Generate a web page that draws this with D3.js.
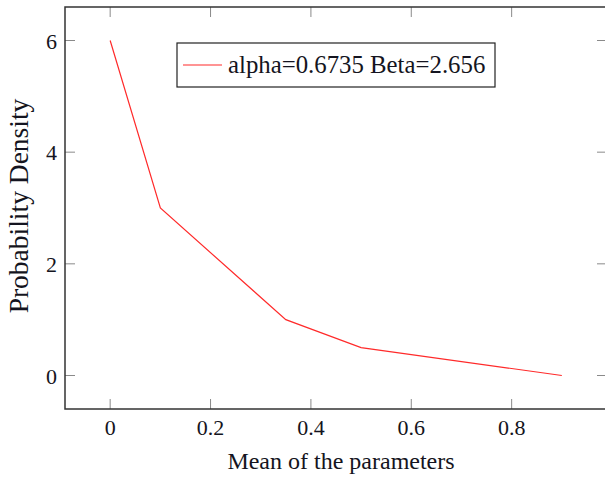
<!DOCTYPE html>
<html>
<head>
<meta charset="utf-8">
<script src="https://cdn.jsdelivr.net/npm/d3@7"></script>
<style>
  body { margin: 0; background: #fff; }
  text { font-family: "Liberation Serif", "DejaVu Serif", serif; fill: #141420; }
</style>
</head>
<body>
<svg id="canvas"></svg>
<script>
// data
const xValues = [0, 0.1, 0.35, 0.5, 0.9];
const yValues = [6, 3, 1, 0.5, 0];
const xTicks = [0, 0.2, 0.4, 0.6, 0.8];
const yTicks = [0, 2, 4, 6];
const legendLabel = 'alpha=0.6735 Beta=2.656';
const xLabel = 'Mean of the parameters';
const yLabel = 'Probability Density';

const w = 605;
const h = 477;
// plot box edges
const padLeft = 65, padRight = 607, padTop = 7, padBottom = 409;

const svg = d3.select('#canvas').attr('width', w).attr('height', h);

// pgfplots style: 10% enlarged limits
const x = d3.scaleLinear().domain([-0.09, 0.99]).range([padLeft, padRight]);
const y = d3.scaleLinear().domain([-0.6, 6.6]).range([padBottom, padTop]);

const points = xValues.map((v, i) => [v, yValues[i]]);

// ticks on all four sides, pointing inward
const tickLen = 10;
const ticks = svg.append('g').attr('stroke', '#8a8a8a').attr('stroke-width', 1);
xTicks.forEach((t) => {
	ticks.append('line').attr('x1', x(t)).attr('x2', x(t)).attr('y1', padBottom).attr('y2', padBottom - tickLen);
	ticks.append('line').attr('x1', x(t)).attr('x2', x(t)).attr('y1', padTop).attr('y2', padTop + tickLen);
});
yTicks.forEach((t) => {
	ticks.append('line').attr('y1', y(t)).attr('y2', y(t)).attr('x1', padLeft).attr('x2', padLeft + tickLen);
	ticks.append('line').attr('y1', y(t)).attr('y2', y(t)).attr('x1', padRight).attr('x2', padRight - tickLen);
});

// the curve
const line = d3.line().x((d) => x(d[0])).y((d) => y(d[1]));
svg.append('path')
	.datum(points)
	.attr('d', line)
	.attr('fill', 'none')
	.attr('stroke', '#ff2a2a')
	.attr('stroke-width', 1.2);

// frame
svg.append('rect')
	.attr('x', padLeft).attr('y', padTop)
	.attr('width', padRight - padLeft).attr('height', padBottom - padTop)
	.attr('fill', 'none')
	.attr('stroke', '#333')
	.attr('stroke-width', 1.5);

// tick labels
svg.append('g').selectAll('text').data(xTicks).enter().append('text')
	.attr('x', (d) => x(d))
	.attr('y', 435)
	.attr('text-anchor', 'middle')
	.style('font-size', '22px')
	.text((d) => d3.format('~g')(d));

svg.append('g').selectAll('text').data(yTicks).enter().append('text')
	.attr('x', 57)
	.attr('y', (d) => y(d) + 8)
	.attr('text-anchor', 'end')
	.style('font-size', '22px')
	.text((d) => d);

// axis labels
svg.append('text')
	.attr('x', 341)
	.attr('y', 469)
	.attr('text-anchor', 'middle')
	.style('font-size', '24px')
	.text(xLabel);

svg.append('text')
	.attr('transform', 'translate(28,206) rotate(-90)')
	.attr('text-anchor', 'middle')
	.style('font-size', '27.5px')
	.text(yLabel);

// legend
const legend = svg.append('g');
legend.append('rect')
	.attr('x', 177).attr('y', 43)
	.attr('width', 318).attr('height', 44)
	.attr('fill', '#fff')
	.attr('stroke', '#222')
	.attr('stroke-width', 1.2);
legend.append('line')
	.attr('x1', 183).attr('x2', 222).attr('y1', 65).attr('y2', 65)
	.attr('stroke', '#ff2a2a').attr('stroke-width', 1.2);
legend.append('text')
	.attr('x', 228).attr('y', 73)
	.style('font-size', '24.8px')
	.text(legendLabel);
</script>
</body>
</html>
